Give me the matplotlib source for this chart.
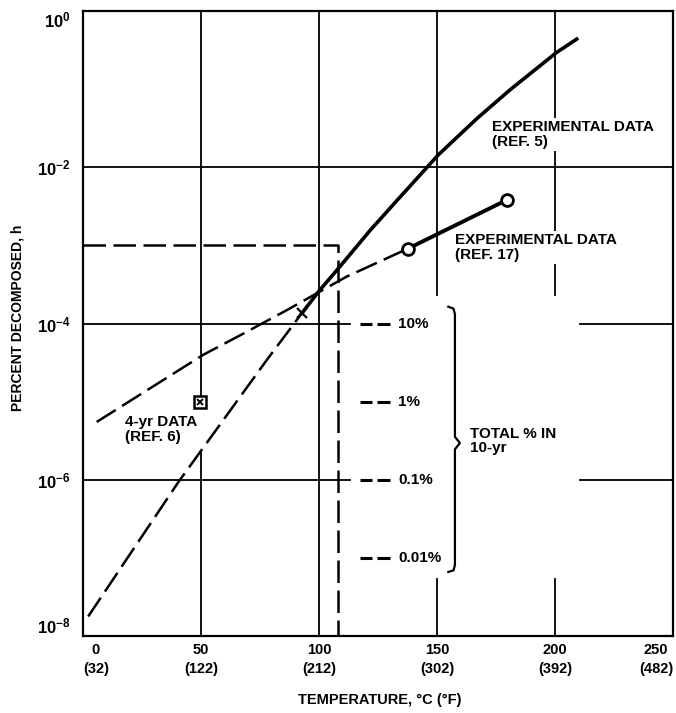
import matplotlib
matplotlib.use("Agg")
import matplotlib.pyplot as plt
import numpy as np

plt.rcParams['font.family'] = ['Liberation Sans', 'DejaVu Sans']
plt.rcParams['font.weight'] = 'bold'
plt.rcParams['axes.labelweight'] = 'bold'
plt.rcParams['mathtext.fontset'] = 'custom'
plt.rcParams['mathtext.rm'] = 'Liberation Sans:bold'
plt.rcParams['mathtext.it'] = 'Liberation Sans:bold'
plt.rcParams['mathtext.bf'] = 'Liberation Sans:bold'

# donnees (temperature en degC, exposant log10 du pourcentage)
ref5_t = [92.7, 100.4, 108.9, 121.6, 132.9, 142.8, 150.6, 166.8, 180.9, 200.7, 209.2]
ref5_exp = [-3.87, -3.57, -3.27, -2.81, -2.43, -2.10, -1.84, -1.38, -1.01, -0.53, -0.36]

ext5_t = [2.2, 40.4, 77.8, 92.7]          # extrapolation ref 5 (tirets)
ext5_exp = [-7.75, -6.03, -4.47, -3.87]

ref17_t = [137.8, 179.5]
ref17_exp = [-3.04, -2.42]

ext17_t = [5.8, 51.0, 67.9, 86.3, 111.7, 137.8]   # extrapolation ref 17 (tirets)
ext17_exp = [-5.26, -4.40, -4.13, -3.83, -3.40, -3.04]

ref6_t = [49.6]
ref6_exp = [-5.0]

limit_t = 108           # temperature limite
limit_pct = 1e-3        # pourcentage limite

pct_labels = ["10%", "1%", "0.1%", "0.01%"]
pct_levels = [1e-4, 1e-5, 1e-6, 1e-7]

xticks_c = [0, 50, 100, 150, 200, 250]
xticks_f = [32, 122, 212, 302, 392, 482]
yticks = [1e-8, 1e-6, 1e-4, 1e-2, 1e0]
ytick_labels = [r'$10^{-8}$', r'$10^{-6}$', r'$10^{-4}$', r'$10^{-2}$', r'$10^{0}$']

W, H = 676, 713
fig = plt.figure(figsize=(W / 100, H / 100), dpi=100)
ax = fig.add_axes([83 / W, 1 - 636 / H, 590 / W, 625 / H])
ax.set_yscale('log')
ax.set_xlim(0, 250)
ax.set_ylim(1e-8, 1)
ax.minorticks_off()

for s in ax.spines.values():
    s.set_linewidth(1.6)

# grille, avec les coupures de l'original
glw = 1.3
ax.plot([50, 50], [1e-8, 10 ** -5.64], color='black', lw=glw, zorder=1)
ax.plot([50, 50], [10 ** -4.94, 1], color='black', lw=glw, zorder=1)
ax.plot([100, 100], [1e-8, 1], color='black', lw=glw, zorder=1)
for xg in [150, 200]:
    ax.plot([xg, xg], [10 ** -3.64, 1], color='black', lw=glw, zorder=1)
    ax.plot([xg, xg], [1e-8, 10 ** -7.27], color='black', lw=glw, zorder=1)
ax.plot([0, 250], [1e-2, 1e-2], color='black', lw=glw, zorder=1)
for yg in [1e-4, 1e-6]:
    ax.plot([0, 113], [yg, yg], color='black', lw=glw, zorder=1)
    ax.plot([210.6, 250], [yg, yg], color='black', lw=glw, zorder=1)

dash = (9, 3)

# courbe ref 5 + extrapolation
ax.plot(ref5_t, 10 ** np.array(ref5_exp), color='black', lw=2.6, zorder=3,
        solid_joinstyle='round')
ax.plot(ext5_t, 10 ** np.array(ext5_exp), color='black', lw=1.8, dashes=dash, zorder=3)
ax.plot(ext5_t[-1:], 10 ** np.array(ext5_exp[-1:]), marker='x', ms=7, mew=1.6,
        color='black', zorder=4)

# courbe ref 17 + extrapolation
ax.plot(ext17_t, 10 ** np.array(ext17_exp), color='black', lw=1.8, dashes=dash, zorder=3)
ax.plot(ref17_t, 10 ** np.array(ref17_exp), color='black', lw=2.8, marker='o', ms=8.5,
        mfc='white', mec='black', mew=2, zorder=4)

# point 4 ans ref 6
ax.plot(ref6_t, 10 ** np.array(ref6_exp), marker='s', ms=8.5, mfc='white', mec='black',
        mew=1.8, ls='none', zorder=4)
ax.plot(ref6_t, 10 ** np.array(ref6_exp), marker='x', ms=5, mew=1.4, color='black',
        ls='none', zorder=5)

# limite (tirets)
ax.plot([0, limit_t, limit_t], [limit_pct, limit_pct, 1e-8], color='black', lw=1.8,
        dashes=dash, zorder=2)

# etiquettes "total % in 10-yr"
for lab, lev in zip(pct_labels, pct_levels):
    ax.plot([117.4, 122.5], [lev, lev], color='black', lw=2.2, solid_capstyle='butt', zorder=3)
    ax.plot([124.6, 130.1], [lev, lev], color='black', lw=2.2, solid_capstyle='butt', zorder=3)
    ax.text(133.5, lev, lab, fontsize=11, va='center', ha='left')

# accolade
bx = [154.8, 157.0, 157.6, 157.6, 159.7, 157.6, 157.6, 157.0, 154.8]
by = [-3.785, -3.81, -3.88, -5.45, -5.53, -5.61, -7.09, -7.16, -7.18]
ax.plot(bx, 10 ** np.array(by), color='black', lw=1.6, zorder=3)
ax.text(164, 10 ** -5.32, "TOTAL % IN\n10-yr", fontsize=11, va='top', ha='left', linespacing=1.0)

wbox = dict(facecolor='white', edgecolor='none', pad=1.5)
ax.text(173.3, 10 ** -1.395, "EXPERIMENTAL DATA\n(REF. 5)", fontsize=11, va='top', ha='left',
        linespacing=1.1, bbox=wbox, zorder=2)
ax.text(157.6, 10 ** -2.84, "EXPERIMENTAL DATA\n(REF. 17)", fontsize=11, va='top', ha='left',
        linespacing=1.1, bbox=wbox, zorder=2)
ax.text(17.8, 10 ** -5.17, "4-yr DATA\n(REF. 6)", fontsize=11, va='top', ha='left',
        linespacing=1.1, bbox=wbox, zorder=2)

# axes
ax.set_xticks(xticks_c)
ax.set_xticklabels([f"{c}\n({f})" for c, f in zip(xticks_c, xticks_f)], fontsize=10.5)
ax.tick_params(axis='x', length=0, pad=5)
for lbl in ax.get_xticklabels():
    lbl.set_multialignment('center')
    lbl.set_linespacing(1.45)
ax.get_xticklabels()[0].set_ha('left')
ax.get_xticklabels()[-1].set_ha('right')

ax.set_yticks(yticks)
ax.set_yticklabels(ytick_labels, fontsize=12)
ax.tick_params(axis='y', length=0, pad=9)
ax.get_yticklabels()[0].set_va('bottom')
ax.get_yticklabels()[-1].set_va('top')

ax.set_xlabel("TEMPERATURE, °C (°F)", fontsize=10.5, fontweight='bold')
ax.xaxis.set_label_coords((380 - 83) / 590, (636 - 693) / 625)
ax.set_ylabel("PERCENT DECOMPOSED, h", fontsize=10, fontweight='bold')
ax.yaxis.set_label_coords((25 - 83) / 590, (636 - 318) / 625)

fig.savefig("out.png", dpi=100)
